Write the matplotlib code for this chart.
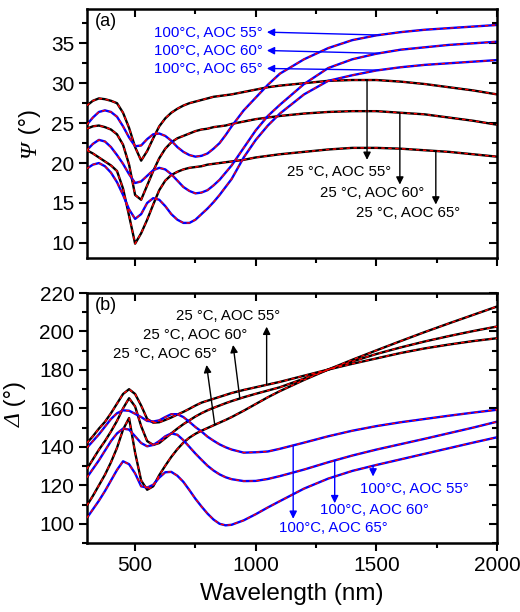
import numpy as np
import matplotlib
matplotlib.use("Agg")
import matplotlib.pyplot as plt
from matplotlib.ticker import MultipleLocator

plt.rcParams['font.family'] = ['Liberation Sans', 'DejaVu Sans']

# Wavelength grid (nm) shared by all spectra
wavelength = ([300, 325, 350, 375, 400, 425, 450, 475, 500, 525, 550, 575, 600,
               625, 650, 675, 700, 725, 750, 775, 800, 825, 850, 875, 900]
              + [950, 1000, 1050, 1100]
              + [1200, 1300, 1400, 1500, 1600, 1700, 1800, 1900, 2000])

# Psi spectra (deg)
psi_25C_55 = [27.2, 27.8, 28.1, 28.0, 27.8, 27.5, 26.3, 24.4, 22.0, 20.3, 21.5, 23.1, 24.6,
              25.6, 26.3, 26.8, 27.2, 27.5, 27.7, 27.9, 28.1, 28.3, 28.4, 28.5, 28.6,
              28.9, 29.2, 29.5, 29.7, 30.0, 30.3, 30.4, 30.4, 30.2, 29.9, 29.5, 29.1, 28.6]
psi_25C_60 = [24.3, 24.6, 24.7, 24.5, 24.2, 23.6, 22.3, 19.8, 16.0, 15.4, 17.2, 19.0, 20.6,
              21.8, 22.6, 23.1, 23.4, 23.7, 24.0, 24.2, 24.3, 24.5, 24.6, 24.7, 24.9,
              25.2, 25.5, 25.7, 25.9, 26.2, 26.4, 26.5, 26.5, 26.3, 26.1, 25.7, 25.3, 24.8]
psi_25C_65 = [21.6, 21.2, 20.7, 20.2, 19.7, 19.0, 16.8, 13.4, 9.9, 11.2, 12.9, 14.8, 16.6,
              17.8, 18.5, 18.9, 19.2, 19.4, 19.5, 19.6, 19.8, 19.9, 20.0, 20.1, 20.2,
              20.4, 20.7, 20.9, 21.1, 21.4, 21.7, 21.9, 21.9, 21.8, 21.6, 21.4, 21.1, 20.8]
psi_100C_55 = [24.8, 25.7, 26.4, 26.6, 26.4, 25.8, 24.6, 23.2, 22.1, 22.2, 23.0, 23.6, 23.7,
               23.4, 22.8, 22.0, 21.4, 21.0, 20.8, 20.9, 21.2, 21.8, 22.5, 23.5, 24.6,
               26.6, 28.2, 29.8, 31.2, 33.0, 34.4, 35.4, 36.0, 36.4, 36.7, 36.9, 37.1, 37.3]
psi_100C_60 = [21.6, 22.4, 22.9, 22.7, 22.0, 21.0, 19.9, 18.6, 17.5, 17.7, 18.4, 19.1, 19.4,
               19.2, 18.6, 17.8, 17.0, 16.5, 16.2, 16.3, 16.6, 17.2, 17.9, 18.8, 19.7,
               21.9, 24.1, 25.9, 27.3, 29.9, 31.9, 33.0, 33.7, 34.2, 34.5, 34.8, 35.0, 35.2]
psi_100C_65 = [19.3, 19.8, 20.0, 19.6, 18.8, 17.6, 16.0, 14.2, 13.0, 13.6, 15.0, 15.6, 15.4,
               14.6, 13.6, 12.9, 12.5, 12.5, 12.9, 13.6, 14.3, 15.1, 16.0, 17.0, 18.0,
               20.7, 22.9, 24.7, 26.2, 28.6, 30.3, 31.0, 31.6, 32.0, 32.3, 32.5, 32.7, 32.9]

# Delta spectra (deg)
delta_25C_55 = [142.0, 145.5, 149.5, 153.0, 157.5, 162.5, 167.5, 170.0, 167.5, 161.5, 154.5,
                152.6, 152.8, 154.0, 155.3, 156.8, 158.2, 159.8, 161.5, 163.0, 164.0, 165.0,
                166.0, 167.0, 168.0, 169.6, 171.0, 172.4, 173.8, 177.0, 180.2, 183.2, 186.0,
                188.8, 191.2, 193.2, 195.0, 196.5]
delta_25C_60 = [128.5, 133.5, 138.5, 143.0, 148.0, 153.5, 160.0, 165.3, 161.0, 150.8, 143.0,
                141.0, 142.0, 144.5, 147.0, 149.5, 151.8, 153.8, 155.8, 157.5, 159.0, 160.3,
                161.5, 162.7, 163.8, 165.8, 167.6, 169.3, 171.0, 175.5, 180.2, 184.4, 188.3,
                191.7, 194.8, 197.6, 200.2, 202.6]
delta_25C_65 = [109.5, 114.5, 120.0, 125.5, 132.0, 139.5, 149.0, 155.0, 137.0, 122.5, 117.7,
                119.5, 125.3, 130.2, 134.8, 138.8, 142.2, 144.8, 146.8, 148.4, 149.8, 151.2,
                152.6, 154.0, 155.5, 158.8, 162.3, 165.8, 169.0, 174.8, 180.2, 185.3, 190.2,
                195.0, 199.7, 204.2, 208.6, 213.0]
delta_100C_55 = [103.0, 107.5, 112.0, 117.0, 122.5, 128.0, 132.5, 131.0, 126.2, 119.5, 118.8,
                 120.3, 124.0, 126.8, 127.0, 125.0, 121.8, 117.5, 113.0, 109.0, 105.3, 102.2,
                 100.0, 99.2, 99.5, 101.8, 105.0, 108.5, 111.8, 118.3, 123.5, 127.5, 130.6,
                 133.5, 136.4, 139.3, 142.2, 145.0]
delta_100C_60 = [124.0, 128.5, 133.0, 138.0, 143.0, 147.0, 149.5, 149.0, 145.5, 142.0, 140.3,
                 141.0, 143.0, 145.5, 147.0, 146.3, 143.5, 140.0, 136.5, 133.3, 130.2, 127.7,
                 125.7, 124.2, 123.2, 122.2, 122.3, 123.3, 124.8, 128.2, 132.0, 135.5, 138.6,
                 141.4, 144.2, 147.1, 150.0, 153.1]
delta_100C_65 = [139.5, 143.0, 146.5, 150.5, 154.5, 157.5, 159.0, 158.8, 157.2, 155.5, 153.5,
                 153.2, 153.8, 155.5, 157.0, 157.0, 155.5, 153.0, 150.3, 148.0, 145.3, 143.2,
                 141.3, 139.8, 138.6, 137.0, 137.2, 137.6, 139.0, 142.2, 145.5, 148.4, 150.8,
                 152.8, 154.5, 156.2, 157.8, 159.3]

label_25 = ["25 °C, AOC 55°", "25 °C, AOC 60°", "25 °C, AOC 65°"]
label_100 = ["100°C, AOC 55°", "100°C, AOC 60°", "100°C, AOC 65°"]

BLUE = '#0000ff'
RED = '#ff0000'
ANN_SIZE = 10.8

wl = np.array(wavelength, dtype=float)

fig = plt.figure(figsize=(5.2, 6.12), dpi=100)
ax1 = fig.add_axes([0.167, 0.5784, 0.789, 0.4069])
ax2 = fig.add_axes([0.167, 0.1127, 0.789, 0.4085])


def draw_spectrum(ax, values, color):
    ax.plot(wl, values, color=color, lw=1.7, solid_capstyle='round', zorder=2)
    ax.plot(wl, values, color=RED, lw=1.0, dashes=(2.5, 2.5), zorder=3)


def style_axes(ax):
    for sp in ax.spines.values():
        sp.set_linewidth(1.8)
    ax.set_xlim(300, 2000)
    ax.xaxis.set_major_locator(MultipleLocator(500))
    ax.xaxis.set_minor_locator(MultipleLocator(250))
    ax.tick_params(which='both', direction='out', width=1.5, labelsize=15,
                   top=False, right=False)
    ax.tick_params(which='major', length=6, pad=3)
    ax.tick_params(which='minor', length=3.5)
    # inward ticks on the top and right frame
    ax.tick_params(which='both', axis='x', top=True)
    ax.tick_params(which='both', axis='y', right=True)
    for t in ax.xaxis.get_major_ticks() + ax.xaxis.get_minor_ticks():
        t.tick2line.set_marker(3)
    for t in ax.yaxis.get_major_ticks() + ax.yaxis.get_minor_ticks():
        t.tick2line.set_marker(0)


def greek_ylabel(ax, symbol, x, y):
    """Italic serif Greek symbol followed by an upright '(°)', read bottom to top."""
    ax.text(x, y, symbol, transform=ax.transAxes, rotation=90, rotation_mode='anchor',
            ha='right', va='baseline', fontsize=17, family='Liberation Serif',
            style='italic')
    ax.text(x, y, ' (°)', transform=ax.transAxes, rotation=90, rotation_mode='anchor',
            ha='left', va='baseline', fontsize=17)


# ---- (a) Psi ----
for vals in (psi_25C_55, psi_25C_60, psi_25C_65):
    draw_spectrum(ax1, vals, 'black')
for vals in (psi_100C_55, psi_100C_60, psi_100C_65):
    draw_spectrum(ax1, vals, BLUE)

ax1.set_ylim(8.1, 39.3)
ax1.yaxis.set_major_locator(MultipleLocator(5))
ax1.yaxis.set_minor_locator(MultipleLocator(2.5))
style_axes(ax1)
ax1.tick_params(axis='x', labelbottom=False)
greek_ylabel(ax1, 'Ψ', -0.125, 0.47)
ax1.text(0.02, 0.985, '(a)', transform=ax1.transAxes, fontsize=13, va='top', ha='left')

arrow_kw = dict(arrowstyle='-|>', lw=1.0, mutation_scale=11, shrinkA=0, shrinkB=0)

# 100 °C labels with leftward arrows
for vals, lab, ytxt, yhead in zip((psi_100C_55, psi_100C_60, psi_100C_65), label_100,
                                  (36.3, 34.0, 31.75), (36.4, 34.1, 31.85)):
    y0 = np.interp(1510, wl, vals)
    ax1.annotate('', xy=(1046, yhead), xytext=(1510, y0),
                 arrowprops=dict(color=BLUE, **arrow_kw), zorder=5)
    ax1.text(1030, ytxt, lab, color=BLUE, fontsize=ANN_SIZE, ha='right', va='center')

# 25 °C labels with downward arrows
for vals, lab, xa, yhead, xt, yt in zip((psi_25C_55, psi_25C_60, psi_25C_65), label_25,
                                        (1461, 1597, 1746), (20.4, 17.3, 14.8),
                                        (1347, 1481, 1630), (18.9, 16.3, 13.7)):
    y0 = np.interp(xa, wl, vals)
    ax1.annotate('', xy=(xa, yhead), xytext=(xa, y0),
                 arrowprops=dict(color='black', **arrow_kw), zorder=5)
    ax1.text(xt, yt, lab, color='black', fontsize=ANN_SIZE, ha='center', va='center')

# ---- (b) Delta ----
for vals in (delta_25C_55, delta_25C_60, delta_25C_65):
    draw_spectrum(ax2, vals, 'black')
for vals in (delta_100C_55, delta_100C_60, delta_100C_65):
    draw_spectrum(ax2, vals, BLUE)

ax2.set_ylim(90, 220)
ax2.yaxis.set_major_locator(MultipleLocator(20))
ax2.yaxis.set_minor_locator(MultipleLocator(10))
style_axes(ax2)
greek_ylabel(ax2, 'Δ', -0.16, 0.52)
ax2.set_xlabel('Wavelength (nm)', fontsize=17.5, labelpad=6)
ax2.text(0.02, 0.985, '(b)', transform=ax2.transAxes, fontsize=13, va='top', ha='left')

# 25 °C labels with upward arrows
for vals, lab, xa, xh, yh, xt, yt in zip((delta_25C_55, delta_25C_60, delta_25C_65), label_25,
                                          (1045, 934, 830), (1045, 906, 796),
                                          (202.5, 193.0, 182.6),
                                          (887, 749, 624), (208.1, 198.2, 188.3)):
    y0 = np.interp(xa, wl, vals)
    ax2.annotate('', xy=(xh, yh), xytext=(xa, y0),
                 arrowprops=dict(color='black', **arrow_kw), zorder=5)
    ax2.text(xt, yt, lab, color='black', fontsize=ANN_SIZE, ha='center', va='center')

# 100 °C labels with downward arrows
for vals, lab, xa, yh, xt, yt in zip((delta_100C_55, delta_100C_60, delta_100C_65), label_100,
                                      (1486, 1327, 1155), (124.6, 110.7, 102.6),
                                      (1655, 1493, 1320), (118.0, 107.3, 97.8)):
    y0 = np.interp(xa, wl, vals)
    ax2.annotate('', xy=(xa, yh), xytext=(xa, y0),
                 arrowprops=dict(color=BLUE, **arrow_kw), zorder=5)
    ax2.text(xt, yt, lab, color=BLUE, fontsize=ANN_SIZE, ha='center', va='center')

fig.savefig('out.png', dpi=100)
